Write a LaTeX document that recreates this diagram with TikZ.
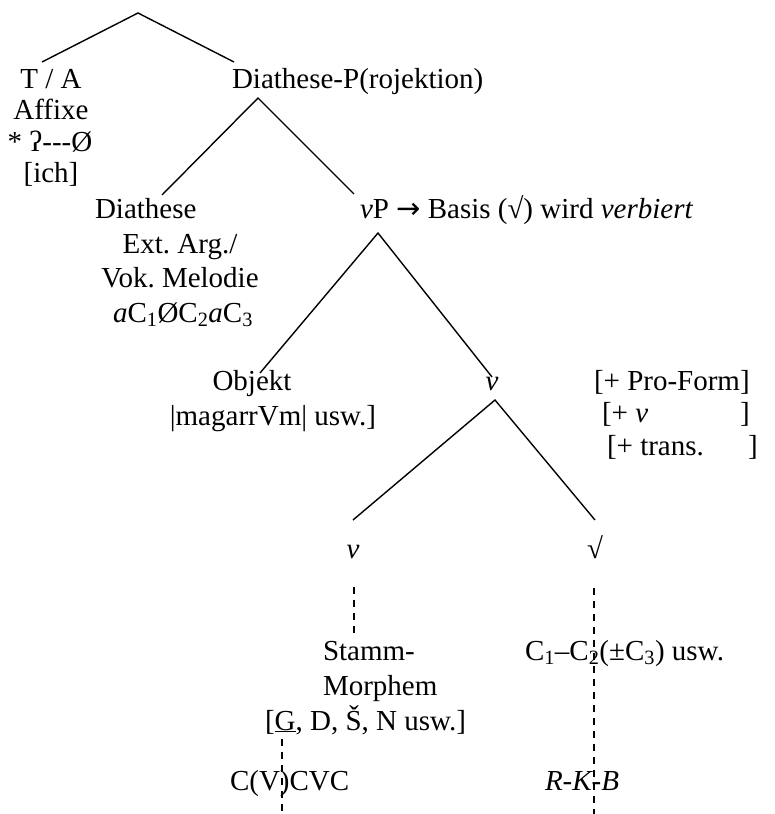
\documentclass[tikz,border=0pt]{standalone}
\usepackage{fontspec}
\setmainfont{Liberation Serif}
\newfontfamily\arrowfont{DejaVu Sans}
\frenchspacing
\begin{document}
\begin{tikzpicture}[x=1pt,y=-1pt,
  every node/.style={inner sep=0pt, outer sep=0pt, font=\fontsize{29}{34}\selectfont},
  lbl/.style={anchor=base},
  lblw/.style={anchor=base west},
  edge/.style={line width=1.4pt},
  dedge/.style={line width=1.4pt, dash pattern=on 7pt off 6pt}]
\useasboundingbox (0,0) rectangle (775,814);
% apexes and branch ends
\coordinate (top) at (138,13);
\coordinate (topL) at (42,62);
\coordinate (topR) at (234,62);
\coordinate (dpA) at (258,98);
\coordinate (dpL) at (162,195);
\coordinate (dpR) at (354,194);
\coordinate (vpA) at (378,233);
\coordinate (vpL) at (260,373);
\coordinate (vpR) at (492,377);
\coordinate (vA) at (495,400);
\coordinate (vL) at (353,520);
\coordinate (vR) at (595,520);
\coordinate (vD1) at (354,587);
\coordinate (vD2) at (354,635);
\coordinate (rD1) at (594,588);
\coordinate (rD2) at (594,814);
\coordinate (gD1) at (282,739);
\coordinate (gD2) at (282,814);
% labels
\node[lbl] (ta1) at (51,88) {T / A};
\node[lbl] (ta2) at (51,119.5) {Affixe};
\node[lbl] (ta3) at (50,151) {* ʔ-{}-{}-Ø};
\node[lbl] (ta4) at (51,182.5) {[ich]};
\node[lblw] (dp) at (232,88) {Diathese-P(rojektion)};
\node[lblw] (di1) at (95,218) {Diathese};
\node[lbl] (di2) at (180,253) {Ext. Arg./};
\node[lbl] (di3) at (180,287) {Vok. Melodie};
\node[lbl] (di4) at (183,322) {\textit{a}C\textsubscript{1}ØC\textsubscript{2}\textit{a}C\textsubscript{3}};
\node[lblw] (vp) at (360,218) {\textit{v}P {\arrowfont →} Basis (√) wird \textit{verbiert}};
\node[lbl] (ob1) at (252,390) {Objekt};
\node[lbl] (ob2) at (273,425) {|magarrVm| usw.]};
\node[lbl] (v1) at (492,390) {\textit{v}};
\node[lblw] (f1) at (594,390) {[+ Pro-Form]};
\node[lblw] (f2) at (602,422) {\makebox[138pt][l]{[+ \textit{v}}]};
\node[lblw] (f3) at (607,455) {\makebox[141pt][l]{[+ trans.}]};
\node[lbl] (v2) at (353,558) {\textit{v}};
\node[lbl] (rt) at (595,558) {√};
\node[lblw] (st1) at (323,660) {Stamm-};
\node[lblw] (st2) at (323,695) {Morphem};
\node[lblw] (st3) at (265,730) {[\underline{G}, D, Š, N usw.]};
\node[lblw] (cc) at (525,660) {C\textsubscript{1}–C\textsubscript{2}(±C\textsubscript{3}) usw.};
\node[lblw] (cv) at (230,790) {C(V)CVC};
\node[lblw] (rkb) at (545,790) {\textit{R-K-B}};
% connectors
\draw[edge] (topL) -- (top) -- (topR);
\draw[edge] (dpL) -- (dpA) -- (dpR);
\draw[edge] (vpL) -- (vpA) -- (vpR);
\draw[edge] (vL) -- (vA) -- (vR);
\draw[dedge] (vD1) -- (vD2);
\draw[dedge] (rD1) -- (rD2);
\draw[dedge] (gD1) -- (gD2);
\end{tikzpicture}
\end{document}
